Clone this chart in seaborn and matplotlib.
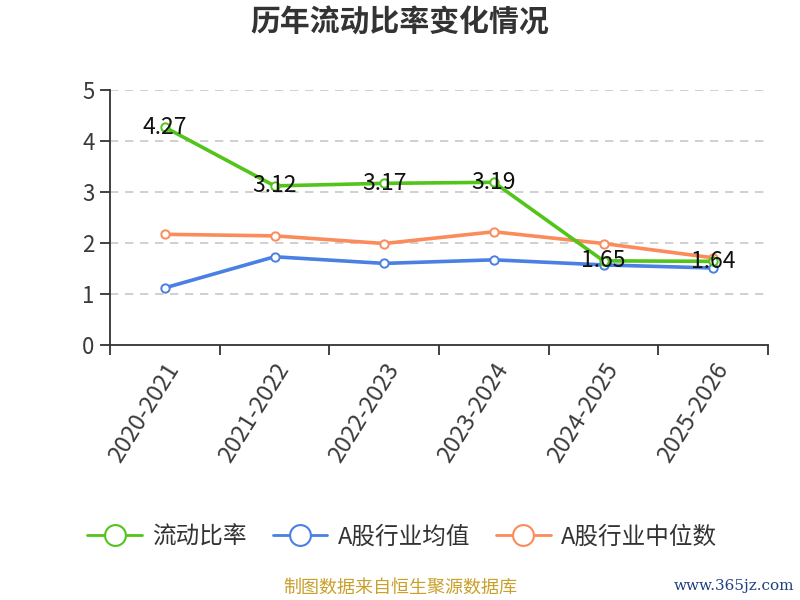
import matplotlib
matplotlib.use('Agg')
import matplotlib.pyplot as plt
from matplotlib.lines import Line2D
import seaborn as sns
import pandas as pd

years = ['2020-2021', '2021-2022', '2022-2023', '2023-2024', '2024-2025', '2025-2026']
current_ratio = [4.27, 3.12, 3.17, 3.19, 1.65, 1.64]
industry_mean = [1.12, 1.73, 1.60, 1.67, 1.57, 1.51]
industry_median = [2.17, 2.14, 1.99, 2.22, 1.99, 1.71]
series_names = ['流动比率', 'A股行业均值', 'A股行业中位数']
colors = ['#52c41a', '#4a7fe3', '#fb8b5a']

sns.set_theme(style='white')
plt.rcParams['font.family'] = ['Noto Sans CJK SC', 'DejaVu Sans']
plt.rcParams['axes.unicode_minus'] = False

rows = []
for name, vals in zip(series_names, [current_ratio, industry_mean, industry_median]):
    for i, v in enumerate(vals):
        rows.append({'x': i, 'value': v, 'series': name})
df = pd.DataFrame(rows)

fig = plt.figure(figsize=(8, 6), dpi=100)
ax = fig.add_axes([0.1375, 0.425, 0.8225, 0.425])

# draw order: median, mean, then ratio on top
for name, col in zip(series_names[::-1], colors[::-1]):
    sub = df[df['series'] == name]
    sns.lineplot(data=sub, x='x', y='value', color=col, linewidth=2.6,
                 marker='o', markersize=6, markerfacecolor='white',
                 markeredgecolor=col, markeredgewidth=1.4, ax=ax, legend=False)

for i, v in enumerate(current_ratio):
    ax.text(i, v, f'{v:.2f}', ha='center', va='center', fontsize=16.5,
            color='#111111', zorder=5)

ax.set_xlim(-0.5, 5.5)
ax.set_ylim(0, 5)
ax.set_yticks(range(0, 6))
ax.set_yticklabels([str(v) for v in range(0, 6)], fontsize=16, color='#3a3a3a')
ax.set_xticks([i - 0.5 for i in range(7)], minor=False)
ax.set_xticklabels([])
ax.set_xticks(range(6), minor=True)
ax.set_xticklabels(years, minor=True, rotation=58, ha='right', rotation_mode='anchor',
                   fontsize=17, color='#3a3a3a')
ax.tick_params(axis='x', which='minor', length=0, pad=10)
ax.tick_params(axis='x', which='major', length=7, width=1.3, color='#333333', direction='out', bottom=True)
ax.tick_params(axis='y', length=7, width=1.3, color='#333333', direction='out', left=True, pad=4)
ax.set_xlabel('')
ax.set_ylabel('')

for y in range(1, 6):
    ax.axhline(y, color='#c8c8c8', linestyle=(0, (5, 4)), linewidth=1.2, zorder=0)

for s in ['top', 'right']:
    ax.spines[s].set_visible(False)
for s in ['left', 'bottom']:
    ax.spines[s].set_color('#333333')
    ax.spines[s].set_linewidth(1.3)

fig.text(0.5, 0.962, '历年流动比率变化情况', ha='center', va='center',
         fontsize=21.5, fontweight='bold', color='#333333')

handles = [Line2D([0], [0], color=c, linewidth=2, marker='o', markersize=15,
                  markerfacecolor='white', markeredgecolor=c, markeredgewidth=1.5)
           for c in colors]
fig.legend(handles, series_names, loc='center', bbox_to_anchor=(0.503, 0.105), ncol=3,
           frameon=False, fontsize=17, handlelength=2.3, handletextpad=0.45,
           columnspacing=1.1, labelcolor='#333333')

fig.text(0.5, 0.02, '制图数据来自恒生聚源数据库', ha='center', va='center',
         fontsize=13, color='#c9a02a')
fig.text(0.918, 0.024, 'www.365jz.com', ha='center', va='center', fontsize=11,
         color='#1f3f7f', family='DejaVu Serif')

fig.savefig('out.png', dpi=100)
